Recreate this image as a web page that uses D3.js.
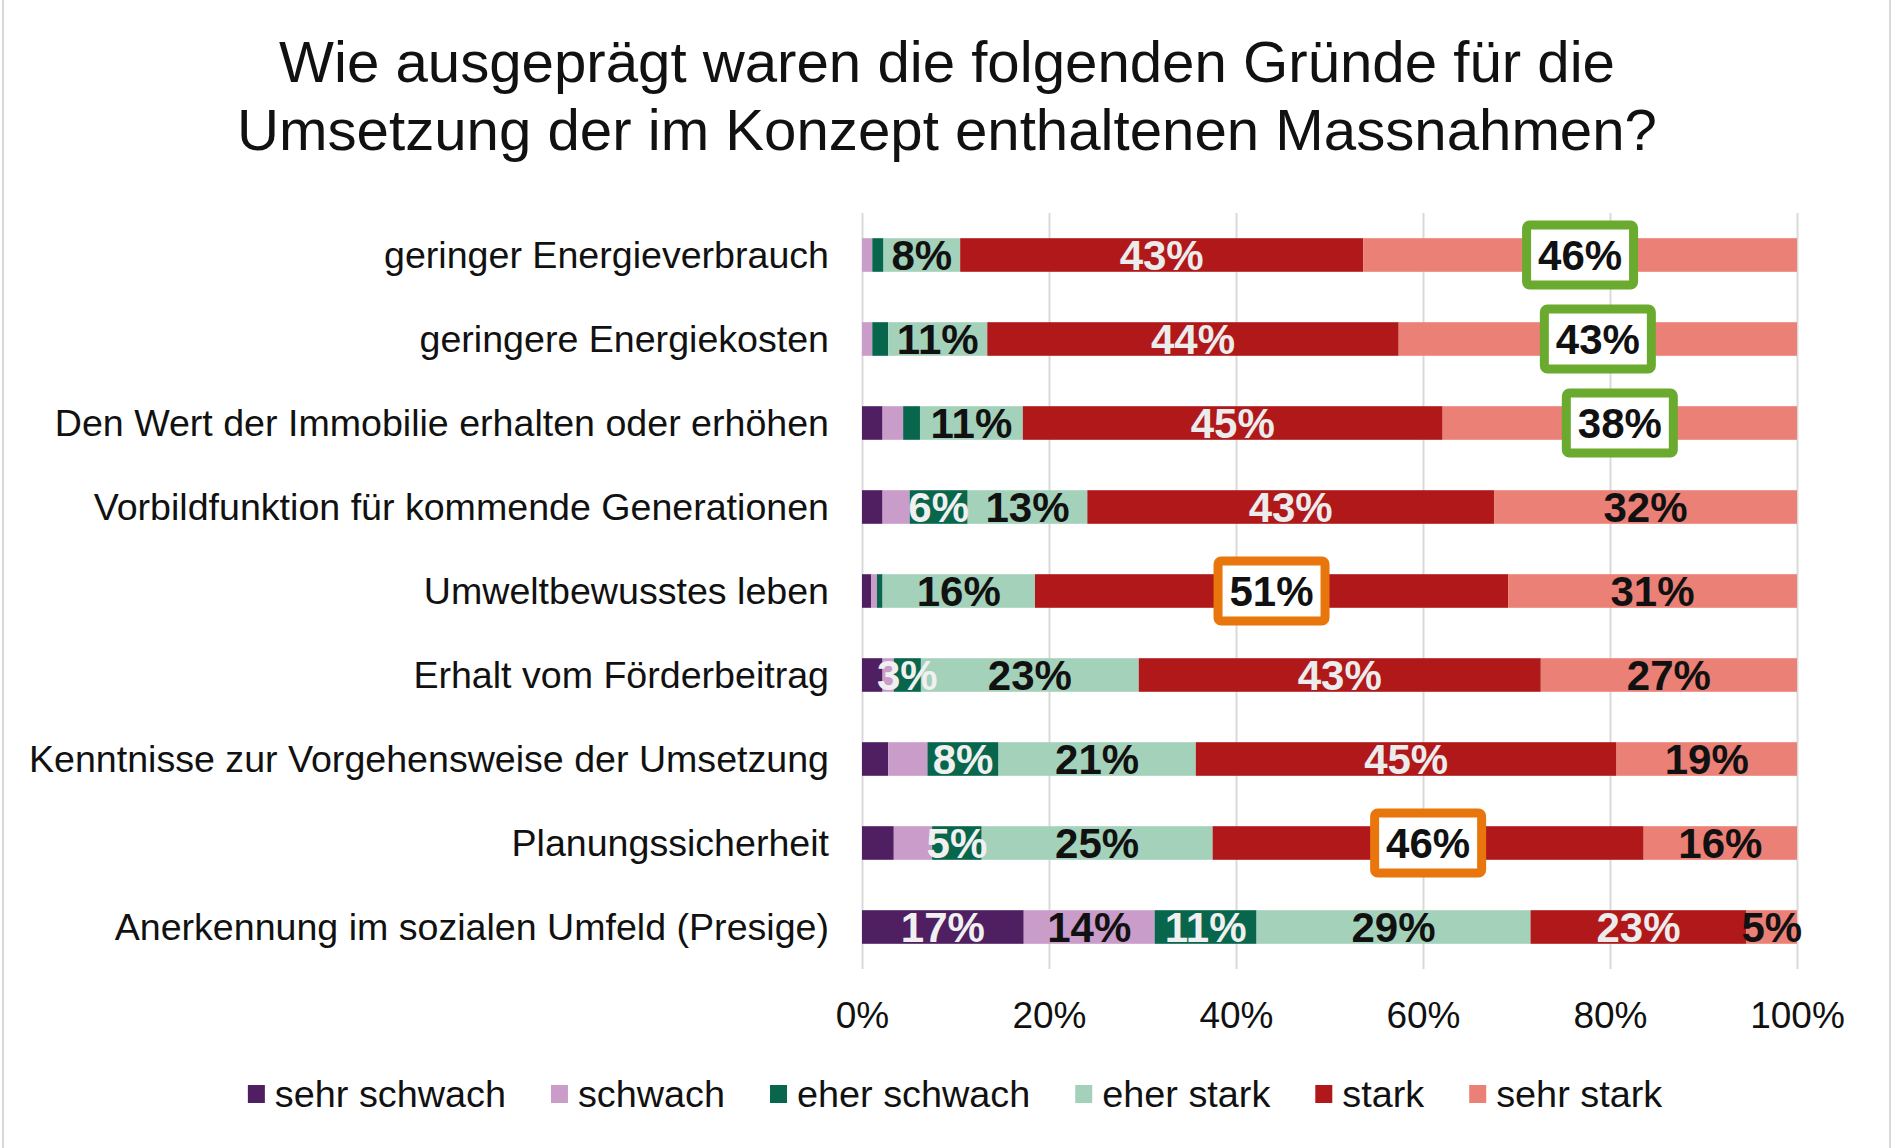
<!DOCTYPE html>
<html>
<head>
<meta charset="utf-8">
<script src="https://cdn.jsdelivr.net/npm/d3@7"></script>
<style>
  html, body { margin: 0; padding: 0; background: #fff; }
  svg { display: block; font-family: "Liberation Sans", Arial, sans-serif; }
</style>
</head>
<body>
<svg id="chart" width="1895" height="1148"></svg>
<script>
// ---------- data ----------
const titleLines = [
  "Wie ausgeprägt waren die folgenden Gründe für die",
  "Umsetzung der im Konzept enthaltenen Massnahmen?"
];
const categories = [
  "geringer Energieverbrauch",
  "geringere Energiekosten",
  "Den Wert der Immobilie erhalten oder erhöhen",
  "Vorbildfunktion für kommende Generationen",
  "Umweltbewusstes leben",
  "Erhalt vom Förderbeitrag",
  "Kenntnisse zur Vorgehensweise der Umsetzung",
  "Planungssicherheit",
  "Anerkennung im sozialen Umfeld (Presige)"
];
const seriesNames = ["sehr schwach", "schwach", "eher schwach", "eher stark", "stark", "sehr stark"];
const sehrSchwach = [0, 0, 2.2, 2.2, 1.0, 2.2, 2.8, 3.4, 17.3];
const schwach     = [1.1, 1.1, 2.2, 2.9, 0.6, 1.2, 4.2, 4.1, 14.0];
const eherSchwach = [1.2, 1.7, 1.8, 6.2, 0.6, 2.9, 7.6, 5.3, 10.9];
const eherStark   = [8.2, 10.6, 11.0, 12.8, 16.3, 23.3, 21.1, 24.7, 29.3];
const stark       = [43.1, 44.0, 44.9, 43.5, 50.6, 43.0, 45.0, 46.1, 23.1];
const sehrStark   = [46.4, 42.6, 37.9, 32.4, 30.9, 27.4, 19.3, 16.4, 5.4];
const seriesValues = [sehrSchwach, schwach, eherSchwach, eherStark, stark, sehrStark];
const tickValues = [0, 20, 40, 60, 80, 100];
const labelMin = 5;
const extraLabels = [{ category: "Erhalt vom Förderbeitrag", series: "eher schwach" }];
const highlights = [
  { category: "geringer Energieverbrauch", series: "sehr stark", color: "green" },
  { category: "geringere Energiekosten", series: "sehr stark", color: "green" },
  { category: "Den Wert der Immobilie erhalten oder erhöhen", series: "sehr stark", color: "green" },
  { category: "Umweltbewusstes leben", series: "stark", color: "orange" },
  { category: "Planungssicherheit", series: "stark", color: "orange" }
];

// ---------- styles ----------
const colors = ["#4f1f62", "#c99cca", "#07664b", "#a4d1ba", "#b0181a", "#eb8077"];
const labelColors = ["#f0f0f0", "#111111", "#f0f0f0", "#111111", "#ececec", "#111111"];
const boxColors = { green: "#6aaa2f", orange: "#e8760d" };

const svg = d3.select("#chart");
const W = 1895, H = 1148;

// frame lines
svg.append("line").attr("x1", 3).attr("x2", 3).attr("y1", 0).attr("y2", H)
  .attr("stroke", "#d9d9d9").attr("stroke-width", 2);
svg.append("line").attr("x1", 1890).attr("x2", 1890).attr("y1", 0).attr("y2", H)
  .attr("stroke", "#d9d9d9").attr("stroke-width", 2);

// title
svg.append("g").selectAll("text").data(titleLines).join("text")
  .attr("x", 947).attr("y", (d, i) => 82 + i * 68)
  .attr("text-anchor", "middle").attr("font-size", 58.2).attr("fill", "#111")
  .text(d => d);

// scales
const x = d3.scaleLinear().domain([0, 100]).range([862, 1797]);
const y = d3.scaleBand().domain(categories).range([213, 969]).paddingInner(0.6).paddingOuter(0.3);

// gridlines
const grid = svg.append("g").attr("transform", `translate(0,969)`)
  .call(d3.axisBottom(x).tickValues(tickValues).tickSize(-(969 - 213)).tickFormat(""));
grid.select(".domain").remove();
grid.selectAll(".tick line").attr("stroke", "#d9d9d9").attr("stroke-width", 2);

// x axis labels
const xAxis = svg.append("g").attr("transform", `translate(0,969)`)
  .call(d3.axisBottom(x).tickValues(tickValues).tickSize(0).tickPadding(0).tickFormat(d => d + "%"));
xAxis.select(".domain").remove();
xAxis.selectAll(".tick text").attr("font-size", 37).attr("fill", "#111")
  .attr("font-family", "Liberation Sans, Arial, sans-serif")
  .attr("dy", null).attr("y", 59);

// y axis labels
const yAxis = svg.append("g").attr("transform", `translate(862,0)`)
  .call(d3.axisLeft(y).tickSize(0).tickPadding(33));
yAxis.select(".domain").remove();
yAxis.selectAll(".tick text").attr("font-size", 37.6).attr("fill", "#111")
  .attr("font-family", "Liberation Sans, Arial, sans-serif")
  .attr("dy", null).attr("y", 13);

// stack
const rows = categories.map((c, i) => {
  const o = { category: c };
  seriesNames.forEach((s, k) => { o[s] = seriesValues[k][i]; });
  return o;
});
const stacked = d3.stack().keys(seriesNames)(rows);

const barsG = svg.append("g");
stacked.forEach((layer, k) => {
  barsG.append("g").attr("fill", colors[k]).selectAll("rect").data(layer).join("rect")
    .attr("x", d => x(d[0]))
    .attr("width", d => Math.max(0, x(d[1]) - x(d[0])))
    .attr("y", d => y(d.data.category))
    .attr("height", y.bandwidth());
});

// highlight boxes + labels
const isHighlighted = (c, s) => highlights.find(h => h.category === c && h.series === s);
const boxG = svg.append("g");
const labelsG = svg.append("g");
stacked.forEach((layer, k) => {
  const s = seriesNames[k];
  layer.forEach(d => {
    const c = d.data.category;
    const v = d[1] - d[0];
    const show = v >= labelMin || extraLabels.some(e => e.category === c && e.series === s);
    if (!show) return;
    const cx = (x(d[0]) + x(d[1])) / 2;
    const cy = y(c) + y.bandwidth() / 2;
    const h = isHighlighted(c, s);
    if (h) {
      boxG.append("rect")
        .attr("x", cx - 53.5).attr("y", cy - 30)
        .attr("width", 107).attr("height", 60)
        .attr("rx", 3).attr("ry", 3)
        .attr("fill", "#ffffff")
        .attr("stroke", boxColors[h.color]).attr("stroke-width", 9);
    }
    labelsG.append("text")
      .attr("x", cx).attr("y", cy + 15)
      .attr("text-anchor", "middle")
      .attr("font-size", 42).attr("font-weight", "bold")
      .attr("fill", h ? "#111111" : labelColors[k])
      .text(Math.round(v) + "%");
  });
});

// legend
const legend = svg.append("g");
const items = legend.selectAll("g").data(seriesNames).join("g");
items.append("rect").attr("width", 17).attr("height", 18).attr("y", 1085)
  .attr("fill", (d, i) => colors[i]);
items.append("text").attr("x", 27).attr("y", 1107).attr("font-size", 37.8).attr("fill", "#111")
  .text(d => d);
let widths = [];
items.each(function () { widths.push(27 + this.querySelector("text").getComputedTextLength()); });
const gap = 45;
const total = d3.sum(widths) + gap * (widths.length - 1);
let cur = 955 - total / 2;
items.each(function (d, i) {
  d3.select(this).attr("transform", `translate(${cur},0)`);
  cur += widths[i] + gap;
});
</script>
</body>
</html>
